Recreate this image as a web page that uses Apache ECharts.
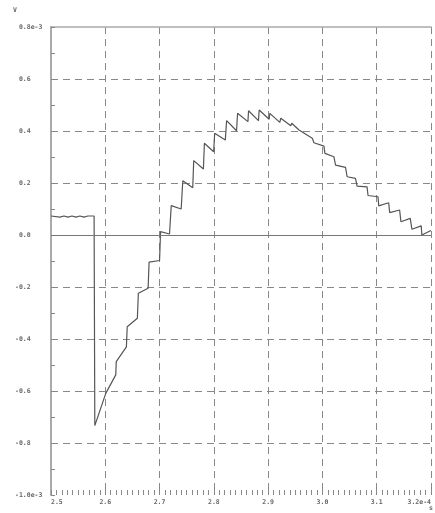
<!DOCTYPE html>
<html>
<head>
<meta charset="utf-8">
<script src="https://cdn.jsdelivr.net/npm/echarts@6/dist/echarts.min.js"></script>
<style>html,body{margin:0;padding:0;background:#fff}#c{width:435px;height:513px}</style>
</head>
<body>
<div id="c"></div>
<script>
// time (x, units 1e-4 s) and voltage (y, units 1e-3 V)
var timeValues = [2.5, 2.5165, 2.5239, 2.5312, 2.5385, 2.5459, 2.5532, 2.5606, 2.5679, 2.5794,
  2.5807, 2.6009, 2.6193, 2.6202, 2.6389, 2.6404, 2.6591, 2.6609, 2.6789, 2.6807, 2.7000,
  2.7018, 2.7183, 2.7215, 2.7398, 2.7428, 2.7611, 2.7629, 2.7807, 2.7826, 2.7996, 2.8015,
  2.8211, 2.8235, 2.8418, 2.8437, 2.8628, 2.8639, 2.8822, 2.8835, 2.9018, 2.9031, 2.9215,
  2.9233, 2.9417, 2.9435, 2.9569, 2.9813, 2.9844, 3.0028, 3.0046, 3.0211, 3.0242, 3.0426,
  3.0455, 3.0609, 3.0638, 3.0822, 3.0840, 3.1024, 3.1037, 3.1220, 3.1239, 3.1422, 3.1446,
  3.1618, 3.1648, 3.1820, 3.1831, 3.2];
var voltageValues = [0.073, 0.069, 0.073, 0.069, 0.073, 0.069, 0.073, 0.069, 0.073, 0.073,
  -0.733, -0.609, -0.538, -0.487, -0.430, -0.353, -0.320, -0.224, -0.205, -0.104, -0.098,
  0.013, 0.004, 0.113, 0.100, 0.209, 0.182, 0.286, 0.254, 0.353, 0.320, 0.391,
  0.365, 0.440, 0.401, 0.468, 0.436, 0.478, 0.440, 0.481, 0.445, 0.468, 0.433,
  0.449, 0.420, 0.430, 0.404, 0.372, 0.355, 0.342, 0.314, 0.301, 0.269, 0.260,
  0.224, 0.218, 0.188, 0.185, 0.152, 0.147, 0.112, 0.124, 0.086, 0.096, 0.051,
  0.064, 0.022, 0.035, 0.000, 0.017];
var xTickMin = 2.5, xTickMax = 3.2, xTickStep = 0.1;
var yTickMin = -1.0, yTickMax = 0.8, yTickStep = 0.2;
var yAxisTitle = 'V';
var xAxisTitle = 's';

var points = timeValues.map(function (t, i) { return [t, voltageValues[i]]; });
var labelFont = {color: '#666', fontFamily: 'DejaVu Sans Mono', fontSize: 6.5, fontWeight: 'bold'};

var chart = echarts.init(document.getElementById('c'));
chart.setOption({
  animation: false,
  backgroundColor: '#fff',
  grid: {left: 51, right: 4, top: 27, bottom: 18},
  xAxis: [{
    type: 'value', min: xTickMin, max: xTickMax, interval: xTickStep,
    axisLine: {show: false, onZero: false},
    axisTick: {show: true, inside: true, length: 5, lineStyle: {color: '#888'}},
    minorTick: {show: true, splitNumber: 10, length: 5, lineStyle: {color: '#888'}},
    splitLine: {show: true, showMinLine: false, lineStyle: {color: '#888', type: [7, 5], width: 1}},
    axisLabel: Object.assign({
      margin: 4, alignMinLabel: 'left', alignMaxLabel: 'right',
      formatter: function (v) { return Math.abs(v - xTickMax) < 1e-6 ? '3.2e-4' : v.toFixed(1); }
    }, labelFont)
  }, {
    type: 'value', min: xTickMin, max: xTickMax, position: 'top',
    axisLine: {show: true, onZero: false, lineStyle: {color: '#aaa', width: 1.5}},
    axisTick: {show: false}, axisLabel: {show: false}, splitLine: {show: false}
  }],
  yAxis: {
    type: 'value', min: yTickMin, max: yTickMax, interval: yTickStep,
    axisLine: {show: true, onZero: false, lineStyle: {color: '#aaa', width: 2}},
    axisTick: {show: true, inside: true, length: 4, lineStyle: {color: '#888'}},
    minorTick: {show: true, splitNumber: 2, length: 4, lineStyle: {color: '#888'}},
    splitLine: {show: true, showMinLine: false, showMaxLine: false, lineStyle: {color: '#888', type: [7, 5], width: 1}},
    axisLabel: Object.assign({
      margin: 36, align: 'left',
      formatter: function (v) {
        if (Math.abs(v - yTickMax) < 1e-6) return ' 0.8e-3';
        if (Math.abs(v - yTickMin) < 1e-6) return '-1.0e-3';
        var s = (Math.abs(v) < 1e-9 ? 0 : v).toFixed(1);
        return v < -1e-9 ? s : ' ' + s;
      }
    }, labelFont)
  },
  graphic: [
    {type: 'text', left: 13, top: 7, style: {text: yAxisTitle, fill: '#666', font: 'bold 6.5px "DejaVu Sans Mono"'}},
    {type: 'text', left: 429, top: 505, style: {text: xAxisTitle, fill: '#666', font: 'bold 6.5px "DejaVu Sans Mono"'}}
  ],
  series: [{
    type: 'line', data: points, showSymbol: false, symbol: 'none',
    lineStyle: {color: '#555', width: 1.2},
    markLine: {
      silent: true, symbol: 'none', label: {show: false},
      lineStyle: {color: '#777', type: 'solid', width: 1},
      data: [{yAxis: 0}]
    }
  }]
});
</script>
</body>
</html>
